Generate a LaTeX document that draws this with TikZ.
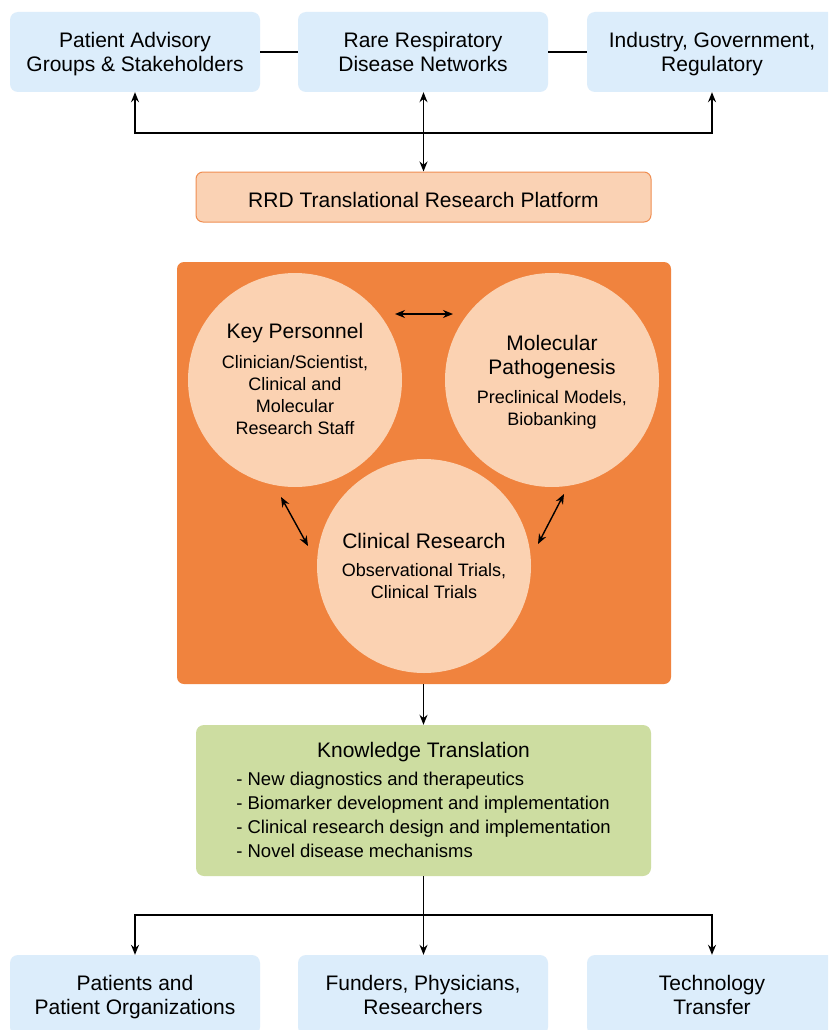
\documentclass[tikz,border=0pt]{standalone}
\usepackage{fontspec}
\setmainfont{Liberation Sans}
\usetikzlibrary{arrows.meta,calc}
\definecolor{boxblue}{RGB}{220,237,251}
\definecolor{peach}{RGB}{250,210,180}
\definecolor{peachline}{RGB}{240,142,82}
\definecolor{orangebg}{RGB}{240,131,62}
\definecolor{circfill}{RGB}{251,210,178}
\definecolor{kgreen}{RGB}{205,221,161}
\newcommand{\tfnt}{\fontsize{21}{24}\selectfont}
\newcommand{\sfnt}{\fontsize{18}{22}\selectfont}
\newcommand{\kfnt}{\fontsize{18.5}{24}\selectfont}
\newcommand{\lowr}[2][2.5pt]{\raisebox{-#1}[\height][\depth]{#2}}
\newcommand{\ctab}[1]{\lowr{\begin{tabular}{@{}c@{}}#1\end{tabular}}}
\tikzset{
  bluebox/.style={fill=boxblue, rounded corners=8pt, minimum width=250pt, minimum height=80pt, inner sep=0pt, font=\tfnt},
  platbox/.style={fill=peach, draw=peachline, line width=1pt, rounded corners=7pt, minimum width=455pt, minimum height=50pt, inner sep=0pt, font=\tfnt},
  bigbox/.style={fill=orangebg, rounded corners=7pt, minimum width=494pt, minimum height=422pt, inner sep=0pt},
  circ/.style={circle, fill=circfill, minimum size=214pt, inner sep=0pt, font=\sfnt},
  kbox/.style={fill=kgreen, rounded corners=8pt, minimum width=455pt, minimum height=151pt, inner sep=0pt, font=\kfnt},
  conn/.style={line width=1.4pt, black},
  arr/.style={conn, -{Stealth[length=10pt,width=8pt]}},
  darr/.style={conn, {Stealth[length=10pt,width=8pt]}-{Stealth[length=10pt,width=8pt]}}
}
\begin{document}
\begin{tikzpicture}[x=1pt,y=-1pt]
\useasboundingbox (0,0) rectangle (828,1030);
\path[clip] (0,0) rectangle (828,1030);
\fill[white] (0,0) rectangle (828,1030);

% top row
\node[bluebox] (pag) at (135,52) {\ctab{Patient Advisory\\Groups \& Stakeholders}};
\node[bluebox] (rrdn) at (423,52) {\ctab{Rare Respiratory\\Disease Networks}};
\node[bluebox] (igr) at (712,52) {\ctab{Industry, Government,\\Regulatory}};
\draw[conn] (pag.east) -- (rrdn.west);
\draw[conn] (rrdn.east) -- (igr.west);

% platform
\node[platbox] (plat) at (423.5,197) {\lowr{RRD Translational Research Platform}};
\coordinate (jtop) at (423.5,133);
\draw[darr] (rrdn.south -| plat.north) -- (plat.north);
\draw[arr] (jtop) -| (pag.south);
\draw[arr] (jtop) -| (igr.south);

% orange block
\node[bigbox] (big) at (424,473) {};
\node[circ] (kp) at (295,380) {\ctab{{\tfnt Key Personnel}\\[8pt]Clinician/Scientist,\\Clinical and\\Molecular\\Research Staff}};
\node[circ] (mp) at (552,380) {\lowr[3.5pt]{\begin{tabular}{@{}c@{}}{\tfnt Molecular}\\[2pt]{\tfnt Pathogenesis}\\[7pt]Preclinical Models,\\Biobanking\end{tabular}}};
\node[circ] (cr) at (424,566) {\lowr[3pt]{\begin{tabular}{@{}c@{}}{\tfnt Clinical Research}\\[6pt]Observational Trials,\\Clinical Trials\end{tabular}}};

\coordinate (a1) at (395,314);
\coordinate (a2) at (453,314);
\coordinate (b1) at (281,497);
\coordinate (b2) at (308,546);
\coordinate (c1) at (564,494);
\coordinate (c2) at (538,544);
\draw[darr] (a1) -- (a2);
\draw[darr] (b1) -- (b2);
\draw[darr] (c1) -- (c2);

% knowledge translation
\node[kbox] (kt) at (423.5,800.5) {\lowr{\begin{tabular}{@{}l@{}}\multicolumn{1}{@{}c@{}}{\tfnt Knowledge Translation}\\[4pt]
- New diagnostics and therapeutics\\
- Biomarker development and implementation\\
- Clinical research design and implementation\\
- Novel disease mechanisms\end{tabular}}};
\draw[arr] (big.south -| kt.north) -- (kt.north);

% bottom row
\node[bluebox] (pat) at (135,995) {\ctab{Patients and\\Patient Organizations}};
\node[bluebox] (fpr) at (423,995) {\ctab{Funders, Physicians,\\Researchers}};
\node[bluebox] (tt) at (712,995) {\ctab{Technology\\Transfer}};
\coordinate (jbot) at (423.5,915);
\draw[arr] (kt.south) -- (kt.south |- fpr.north);
\draw[arr] (jbot) -| (pat.north);
\draw[arr] (jbot) -| (tt.north);
\end{tikzpicture}
\end{document}
